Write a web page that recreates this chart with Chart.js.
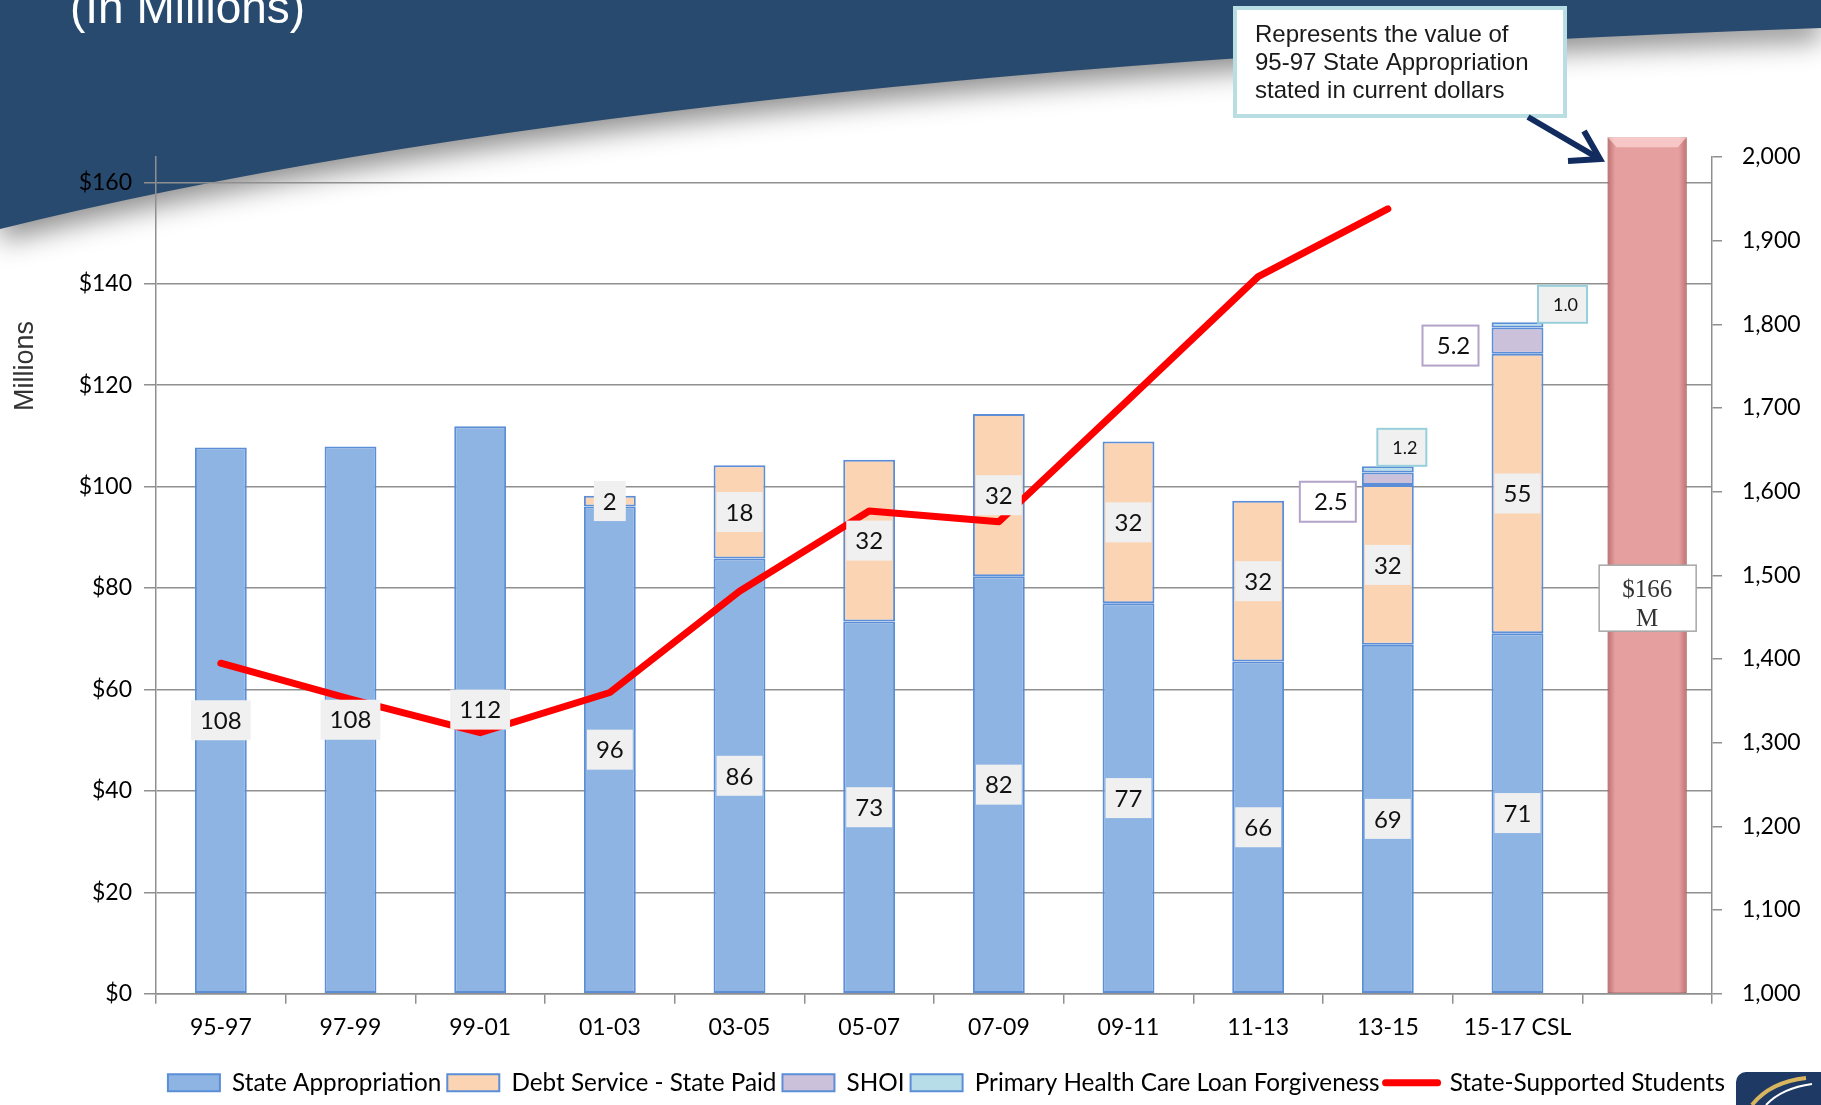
<!DOCTYPE html>
<html>
<head>
<meta charset="utf-8">
<title>State Appropriation (In Millions)</title>
<script src="https://cdn.jsdelivr.net/npm/chart.js@4.4.0/dist/chart.umd.min.js"></script>
<style>
  html, body { margin: 0; padding: 0; background: #fff; }
  #wrap { width: 1821px; height: 1105px; }
</style>
</head>
<body>
<div id="wrap"><canvas id="fundingChart" width="1821" height="1105"></canvas></div>
<script>
// biennium categories, the last slot holds the "current dollars" bar
let biennia = ['95-97', '97-99', '99-01', '01-03', '03-05', '05-07', '07-09', '09-11', '11-13', '13-15', '15-17 CSL', ''];

// millions of dollars
let stateAppropriation = [107.7, 107.9, 111.9, 96.1, 85.8, 73.4, 82.3, 77.0, 65.5, 68.8, 71.1, null];
let debtService = [null, null, null, 2.1, 18.4, 31.9, 32.0, 31.9, 31.7, 31.5, 55.1, null];
let shoi = [null, null, null, null, null, null, null, null, null, 2.5, 5.2, null];
let primaryHealthCare = [null, null, null, null, null, null, null, null, null, 1.2, 1.0, null];
let currentDollars = [null, null, null, null, null, null, null, null, null, null, null, 168.9];

// students, right axis
let stateStudents = [1395, 1352, 1312, 1360, 1481, 1577, 1564, 1710, 1857, 1938, null, null];

let dollarTicks = [0, 20, 40, 60, 80, 100, 120, 140, 160];
let studentTicks = [1000, 1100, 1200, 1300, 1400, 1500, 1600, 1700, 1800, 1900, 2000];

let calloutLines = ['Represents the value of', '95-97 State Appropriation', 'stated in current dollars'];
let currentDollarsLabel = ['$166', 'M'];

let BLUE_EDGE = '#5b8ed6';
let FONT = 'Lato';

// where the outside labels of the small series sit, relative to their bar
let shoiOffsets = { 9: [-60, 23], 10: [-67, 5] };
let phcOffsets = { 9: [14, -19], 10: [45, -18] };

let drawBox = (ctx, cx, cy, w, h, fill, stroke) => {
    ctx.fillStyle = fill;
    ctx.fillRect(cx - w / 2, cy - h / 2, w, h);
    if (stroke) {
        ctx.strokeStyle = stroke;
        ctx.lineWidth = 2;
        ctx.strokeRect(cx - w / 2, cy - h / 2, w, h);
    }
};

let backgroundPlugin = {
    id: 'slideBackground',
    afterLayout: (chart) => {
        // the slide legend sits a little right of centre
        chart.legend.left += 36;
        chart.legend.right += 36;
    },
    beforeDraw: (chart) => {
        let ctx = chart.ctx;
        ctx.save();
        ctx.fillStyle = '#ffffff';
        ctx.fillRect(0, 0, chart.width, chart.height);
        // dark swoosh across the top
        ctx.beginPath();
        ctx.moveTo(0, 0);
        ctx.lineTo(1821, 0);
        ctx.lineTo(1821, 28);
        ctx.quadraticCurveTo(640, 70, 0, 229);
        ctx.closePath();
        ctx.shadowColor = 'rgba(0,0,0,0.45)';
        ctx.shadowBlur = 28;
        ctx.shadowOffsetY = 12;
        ctx.fillStyle = '#284a6f';
        ctx.fill();
        ctx.shadowColor = 'transparent';
        ctx.fillStyle = '#ffffff';
        ctx.font = '46px "Liberation Sans"';
        ctx.textBaseline = 'alphabetic';
        ctx.fillText('(In Millions)', 70, 23);
        ctx.restore();
    }
};

let labelPlugin = {
    id: 'segmentLabels',
    afterDatasetsDraw: (chart) => {
        let ctx = chart.ctx;
        ctx.save();

        // bevel on the current dollars bar
        let pink = chart.getDatasetMeta(5).data[11];
        if (pink) {
            let left = pink.x - pink.width / 2;
            let grad = ctx.createLinearGradient(left, 0, left + pink.width, 0);
            grad.addColorStop(0, 'rgba(160,80,80,0.6)');
            grad.addColorStop(0.1, 'rgba(170,90,90,0)');
            grad.addColorStop(0.9, 'rgba(170,90,90,0)');
            grad.addColorStop(1, 'rgba(160,80,80,0.6)');
            ctx.fillStyle = grad;
            ctx.fillRect(left, pink.y, pink.width, pink.base - pink.y);
            ctx.fillStyle = 'rgba(255,215,215,0.7)';
            ctx.beginPath();
            ctx.moveTo(left, pink.y);
            ctx.lineTo(left + pink.width, pink.y);
            ctx.lineTo(left + pink.width - 9, pink.y + 10);
            ctx.lineTo(left + 9, pink.y + 10);
            ctx.closePath();
            ctx.fill();
        }

        ctx.textAlign = 'center';
        ctx.textBaseline = 'middle';
        [0, 1, 2, 3].forEach((di) => {
            let meta = chart.getDatasetMeta(di);
            let values = chart.data.datasets[di].data;
            meta.data.forEach((bar, i) => {
                let v = values[i];
                if (v === null || v === undefined) return;
                let midY = (bar.y + bar.base) / 2;
                if (di < 2) {
                    ctx.font = '24px ' + FONT;
                    let txt = String(Math.round(v));
                    let w = ctx.measureText(txt).width + 18;
                    drawBox(ctx, bar.x, midY, w, 40, '#f0f0f0');
                    ctx.fillStyle = '#111';
                    ctx.fillText(txt, bar.x, midY + 1);
                } else if (di === 2) {
                    let off = shoiOffsets[i] || [0, 0];
                    ctx.font = '24px ' + FONT;
                    let txt = v.toFixed(1);
                    drawBox(ctx, bar.x + off[0], midY + off[1], 56, 40, '#ffffff', '#b4a3c8');
                    ctx.fillStyle = '#111';
                    ctx.fillText(txt, bar.x + off[0] + 3, midY + off[1] + 1);
                } else {
                    let off = phcOffsets[i] || [0, 0];
                    ctx.font = '18px ' + FONT;
                    let txt = v.toFixed(1);
                    drawBox(ctx, bar.x + off[0], bar.y + off[1], 49, 37, '#f0f0f0', '#98cfdc');
                    ctx.fillStyle = '#111';
                    ctx.fillText(txt, bar.x + off[0] + 3, bar.y + off[1] + 1);
                }
            });
        });

        // $166 M box on the pink bar
        if (pink) {
            let cy = chart.scales.y.getPixelForValue(78);
            ctx.fillStyle = '#ffffff';
            ctx.fillRect(pink.x - 48, cy - 33, 97, 66);
            ctx.strokeStyle = '#a6a6a6';
            ctx.lineWidth = 1.5;
            ctx.strokeRect(pink.x - 48, cy - 33, 97, 66);
            ctx.fillStyle = '#333';
            ctx.font = '25px "Liberation Serif"';
            ctx.fillText(currentDollarsLabel[0], pink.x, cy - 8);
            ctx.fillText(currentDollarsLabel[1], pink.x, cy + 21);
        }
        ctx.restore();
    }
};

let notesPlugin = {
    id: 'slideNotes',
    afterDraw: (chart) => {
        let ctx = chart.ctx;
        ctx.save();
        // vertical axis title
        ctx.translate(26, 366);
        ctx.rotate(-Math.PI / 2);
        ctx.fillStyle = '#333333';
        ctx.font = '27px "Liberation Sans"';
        ctx.textAlign = 'center';
        ctx.textBaseline = 'middle';
        ctx.fillText('Millions', 0, 0);
        ctx.restore();

        // callout box
        ctx.save();
        ctx.fillStyle = '#ffffff';
        ctx.fillRect(1235, 8, 330, 108);
        ctx.strokeStyle = '#b8dee4';
        ctx.lineWidth = 4;
        ctx.strokeRect(1235, 8, 330, 108);
        ctx.fillStyle = '#1a1a1a';
        ctx.font = '24px "Liberation Sans"';
        ctx.textBaseline = 'middle';
        calloutLines.forEach((line, i) => ctx.fillText(line, 1255, 35 + i * 28));

        // arrow to the pink bar
        ctx.strokeStyle = '#122c60';
        ctx.lineWidth = 6;
        ctx.lineCap = 'butt';
        ctx.beginPath();
        ctx.moveTo(1528, 117);
        ctx.lineTo(1598, 158);
        ctx.stroke();
        ctx.beginPath();
        ctx.moveTo(1584, 131);
        ctx.lineTo(1600, 159);
        ctx.lineTo(1568, 161);
        ctx.stroke();

        // logo corner
        ctx.fillStyle = '#1e3a64';
        ctx.beginPath();
        ctx.roundRect(1736, 1072, 110, 60, 10);
        ctx.fill();
        ctx.strokeStyle = '#d8b55e';
        ctx.lineWidth = 4;
        ctx.beginPath();
        ctx.moveTo(1752, 1105);
        ctx.quadraticCurveTo(1770, 1082, 1806, 1078);
        ctx.stroke();
        ctx.strokeStyle = '#ffffff';
        ctx.lineWidth = 2;
        ctx.beginPath();
        ctx.moveTo(1766, 1105);
        ctx.quadraticCurveTo(1782, 1088, 1812, 1084);
        ctx.stroke();
        ctx.restore();
    }
};

let makeBar = (label, data, fill) => ({
    type: 'bar',
    label: label,
    data: data,
    backgroundColor: fill,
    borderColor: BLUE_EDGE,
    borderWidth: 2,
    borderSkipped: false,
    barPercentage: 0.4,
    categoryPercentage: 1,
    yAxisID: 'y',
    order: 2
});

let drawChart = () => {
    let ctx = document.getElementById('fundingChart');
    let legendFills = ['#8eb4e3', '#fbd4b4', '#ccc1da', '#b7dee8', '#ff0000'];
    let data = {
        labels: biennia,
        datasets: [
            makeBar('State Appropriation', stateAppropriation, '#8eb4e3'),
            makeBar('Debt Service - State Paid', debtService, '#fbd4b4'),
            makeBar('SHOI', shoi, '#ccc1da'),
            makeBar('Primary Health Care Loan Forgiveness', primaryHealthCare, '#b7dee8'),
            {
                type: 'line',
                label: 'State-Supported Students',
                data: stateStudents,
                borderColor: '#ff0000',
                borderWidth: 7,
                borderCapStyle: 'round',
                borderJoinStyle: 'round',
                pointRadius: 0,
                tension: 0,
                yAxisID: 'y1',
                order: 1
            },
            {
                type: 'bar',
                label: 'current dollars',
                data: currentDollars,
                backgroundColor: '#e59f9e',
                borderColor: '#c98686',
                borderWidth: 1,
                borderSkipped: false,
                barPercentage: 0.61,
                categoryPercentage: 1,
                clip: false,
                yAxisID: 'y',
                order: 3
            }
        ]
    };

    new Chart(ctx, {
        data: data,
        plugins: [backgroundPlugin, labelPlugin, notesPlugin],
        options: {
            responsive: false,
            animation: false,
            layout: { padding: { top: 157, left: 0, right: 0, bottom: 0 }, autoPadding: false },
            plugins: {
                tooltip: { enabled: false },
                legend: {
                    position: 'bottom',
                    labels: {
                        font: { family: FONT, size: 24.3 },
                        color: '#000',
                        usePointStyle: true,
                        pointStyleWidth: 52,
                        boxHeight: 17,
                        padding: 6,
                        generateLabels: (chart) => chart.data.datasets.slice(0, 5).map((ds, i) => ({
                            text: ds.label,
                            fillStyle: legendFills[i],
                            strokeStyle: i === 4 ? '#ff0000' : BLUE_EDGE,
                            lineWidth: i === 4 ? 7 : 2,
                            lineCap: 'round',
                            pointStyle: i === 4 ? 'line' : 'rect',
                            fontColor: '#000',
                            hidden: false,
                            datasetIndex: i
                        }))
                    }
                }
            },
            scales: {
                x: {
                    stacked: true,
                    offset: true,
                    afterFit: (s) => { s.height = 71; },
                    grid: { display: true, drawOnChartArea: false, drawTicks: true, tickLength: 10, offset: true, color: '#8f8f8f', lineWidth: 1.5 },
                    border: { display: true, color: '#8f8f8f', width: 1.5 },
                    ticks: { font: { family: FONT, size: 23 }, color: '#000', padding: 10, maxRotation: 0, autoSkip: false }
                },
                y: {
                    stacked: true,
                    position: 'left',
                    min: 0,
                    max: 165,
                    afterFit: (s) => { s.width = 156; },
                    afterBuildTicks: (s) => { s.ticks = dollarTicks.map((v) => ({ value: v })); },
                    grid: { color: '#8f8f8f', lineWidth: 1.5, tickLength: 12 },
                    border: { display: true, color: '#8f8f8f', width: 1.5 },
                    ticks: { font: { family: FONT, size: 23 }, color: '#000', padding: 12, callback: (v) => '$' + v }
                },
                y1: {
                    position: 'right',
                    min: 1000,
                    max: 2000,
                    afterFit: (s) => { s.width = 109; },
                    afterBuildTicks: (s) => { s.ticks = studentTicks.map((v) => ({ value: v })); },
                    grid: { drawOnChartArea: false, color: '#8f8f8f', lineWidth: 1.5, tickLength: 10 },
                    border: { display: true, color: '#8f8f8f', width: 1.5 },
                    ticks: { font: { family: FONT, size: 23 }, color: '#000', padding: 20, callback: (v) => v.toLocaleString('en-US') }
                }
            }
        }
    });
};

drawChart();
</script>
</body>
</html>
